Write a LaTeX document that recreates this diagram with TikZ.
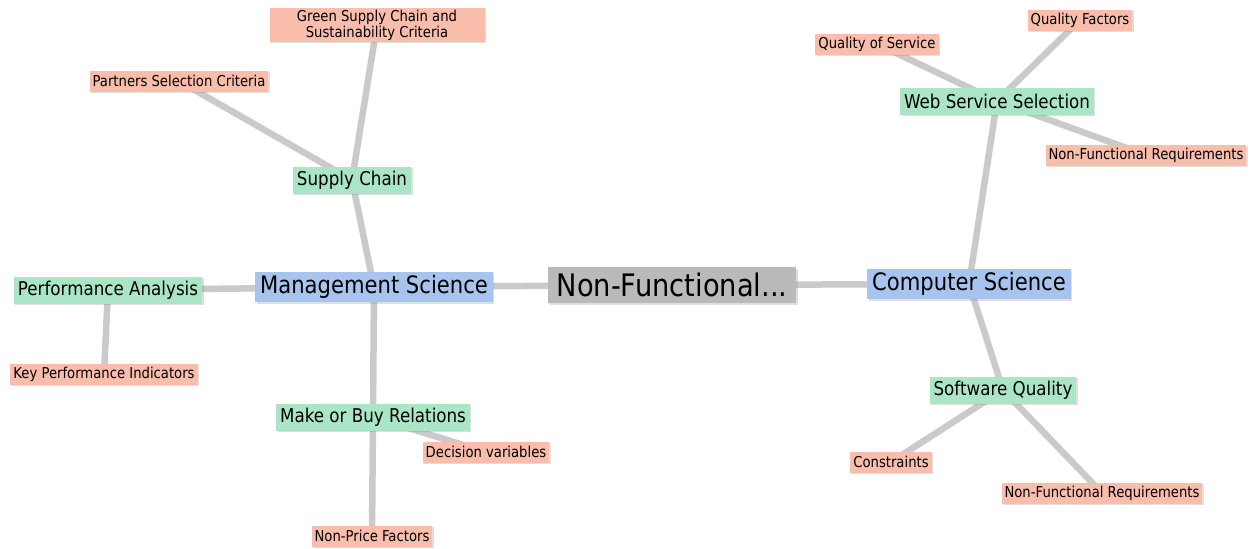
\documentclass[tikz,border=0pt]{standalone}
\usepackage{fontspec}
\setmainfont{DejaVu Sans}[FakeStretch=0.88]
\usetikzlibrary{positioning,shadows,backgrounds}
\definecolor{rootgray}{HTML}{BABABA}
\definecolor{fieldblue}{HTML}{A7C4EE}
\definecolor{areagreen}{HTML}{AAE6C6}
\definecolor{leafsalmon}{HTML}{F8BDAB}
\definecolor{linkgray}{HTML}{CACACA}
\tikzset{
        mapnode/.style={align=center, inner ysep=0pt, text=black,
                drop shadow={shadow xshift=1.5pt, shadow yshift=-1.5pt, opacity=0.25}},
        % Central topic
        node_root/.style={mapnode, fill=rootgray, inner xsep=9pt, minimum height=36pt, font=\fontsize{31}{34}\selectfont},
        % Disciplines
        node_field/.style={mapnode, fill=fieldblue, inner xsep=5pt, minimum height=30pt, font=\fontsize{24}{27}\selectfont},
        % Research areas
        node_area/.style={mapnode, fill=areagreen, inner xsep=4pt, minimum height=27pt, font=\fontsize{19}{21}\selectfont},
        % Criteria leaves
        node_leaf/.style={mapnode, fill=leafsalmon, inner xsep=3pt, minimum height=21pt, font=\fontsize{15}{16}\selectfont},
        % Connectors
        link/.style={line width=6.5pt, draw=linkgray}
}
\begin{document}
\begin{tikzpicture}[x=1pt, y=-1pt]
    \useasboundingbox (0,0) rectangle (1259,549);
    % main branches
    \node[node_root] (root) at (672,285) {Non-Functional...};
    \node[node_field] (ms) at (374,287) {Management Science};
    \node[node_field] (cs) at (969,284) {Computer Science};
    % management side
    \node[node_area] (sc) at (352,180) {Supply Chain};
    \node[node_area] (pa) at (108,290) {Performance Analysis};
    \node[node_area] (mb) at (373,417) {Make or Buy Relations};
    \node[node_leaf, minimum width=215pt, inner ysep=1.5pt] (gsc) at (377,25) {Green Supply Chain and\\Sustainability Criteria};
    \node[node_leaf] (psc) at (179,81) {Partners Selection Criteria};
    \node[node_leaf] (kpi) at (104,374) {Key Performance Indicators};
    \node[node_leaf] (dv) at (486,452) {Decision variables};
    \node[node_leaf] (npf) at (372,536) {Non-Price Factors};
    % computer side
    \node[node_area] (wss) at (997,101) {Web Service Selection};
    \node[node_area] (sq) at (1003,390) {Software Quality};
    \node[node_leaf] (qos) at (877,44) {Quality of Service};
    \node[node_leaf] (qf) at (1080,20) {Quality Factors};
    \node[node_leaf] (nfrw) at (1146,155) {Non-Functional Requirements};
    \node[node_leaf] (con) at (891,462) {Constraints};
    \node[node_leaf] (nfrs) at (1102,493) {Non-Functional Requirements};
    \begin{scope}[on background layer]
        \foreach \a/\b in {root/ms, root/cs, ms/sc, ms/pa, ms/mb, sc/gsc, sc/psc, pa/kpi,
                mb/dv, mb/npf, cs/wss, cs/sq, wss/qos, wss/qf, wss/nfrw, sq/con, sq/nfrs}
            \draw[link] (\a.center) -- (\b.center);
    \end{scope}
\end{tikzpicture}
\end{document}
